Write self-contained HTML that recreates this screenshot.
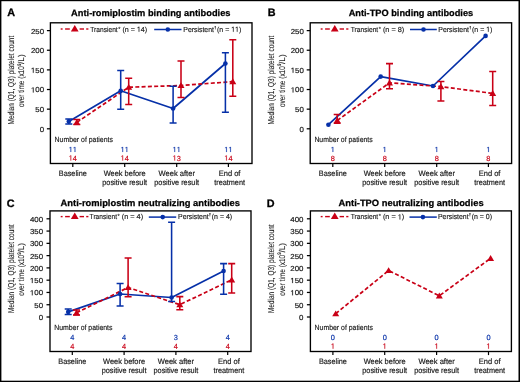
<!DOCTYPE html>
<html><head><meta charset="utf-8"><style>
html,body{margin:0;padding:0;background:#fff;}
svg{display:block;will-change:transform;}
text{font-family:'Liberation Sans', sans-serif;text-rendering:geometricPrecision;}
</style></head><body>
<svg width="520" height="382" viewBox="0 0 520 382">
<rect x="0" y="0" width="520" height="382" fill="#fff"/>
<rect x="0" y="0" width="520" height="1.2" fill="#000"/>
<rect x="0" y="0" width="1.4" height="382" fill="#000"/>
<rect x="518.5" y="0" width="1.5" height="382" fill="#000"/>
<rect x="0" y="380.7" width="520" height="1.3" fill="#000"/>
<text x="71.10" y="15.90" font-size="9.2" text-anchor="start" font-weight="bold" fill="#000" stroke="#000" stroke-width="0.25" textLength="159.4" lengthAdjust="spacingAndGlyphs" >Anti-romiplostim binding antibodies</text>
<text x="7.20" y="16.10" font-size="10.8" text-anchor="start" font-weight="bold" fill="#000" stroke="#000" stroke-width="0.3" >A</text>
<rect x="50.4" y="22.8" width="201.6" height="140.7" fill="none" stroke="#000" stroke-width="1.35"/>
<path d="M46.9,128.80 H50.4" stroke="#000" stroke-width="1.25"/>
<text x="44.10" y="131.70" font-size="7.3" text-anchor="end" font-weight="normal" fill="#1a1a1a" stroke="#1a1a1a" stroke-width="0.18" textLength="4.4" lengthAdjust="spacingAndGlyphs" >0</text>
<path d="M46.9,109.16 H50.4" stroke="#000" stroke-width="1.25"/>
<text x="44.10" y="112.06" font-size="7.3" text-anchor="end" font-weight="normal" fill="#1a1a1a" stroke="#1a1a1a" stroke-width="0.18" textLength="8.8" lengthAdjust="spacingAndGlyphs" >50</text>
<path d="M46.9,89.52 H50.4" stroke="#000" stroke-width="1.25"/>
<text x="30.90" y="92.42" font-size="7.3" text-anchor="start" font-weight="normal" fill="#1a1a1a" stroke="#1a1a1a" stroke-width="0.18" textLength="13.199999999999998" lengthAdjust="spacingAndGlyphs" > 00</text><path d="M515,0 L515,1237 L197,1010 L197,1180 L530,1409 L696,1409 L696,0 Z" fill="#1a1a1a" stroke="#1a1a1a" stroke-width="50.5" transform="translate(30.90,92.42) scale(0.00386,-0.00356)"/>
<path d="M46.9,69.88 H50.4" stroke="#000" stroke-width="1.25"/>
<text x="30.90" y="72.78" font-size="7.3" text-anchor="start" font-weight="normal" fill="#1a1a1a" stroke="#1a1a1a" stroke-width="0.18" textLength="13.199999999999998" lengthAdjust="spacingAndGlyphs" > 50</text><path d="M515,0 L515,1237 L197,1010 L197,1180 L530,1409 L696,1409 L696,0 Z" fill="#1a1a1a" stroke="#1a1a1a" stroke-width="50.5" transform="translate(30.90,72.78) scale(0.00386,-0.00356)"/>
<path d="M46.9,50.24 H50.4" stroke="#000" stroke-width="1.25"/>
<text x="44.10" y="53.14" font-size="7.3" text-anchor="end" font-weight="normal" fill="#1a1a1a" stroke="#1a1a1a" stroke-width="0.18" textLength="13.2" lengthAdjust="spacingAndGlyphs" >200</text>
<path d="M46.9,30.60 H50.4" stroke="#000" stroke-width="1.25"/>
<text x="44.10" y="33.50" font-size="7.3" text-anchor="end" font-weight="normal" fill="#1a1a1a" stroke="#1a1a1a" stroke-width="0.18" textLength="13.2" lengthAdjust="spacingAndGlyphs" >250</text>
<path d="M72.80,163.5 V167.1" stroke="#000" stroke-width="1.2"/>
<path d="M124.70,163.5 V167.1" stroke="#000" stroke-width="1.2"/>
<path d="M176.70,163.5 V167.1" stroke="#000" stroke-width="1.2"/>
<path d="M228.40,163.5 V167.1" stroke="#000" stroke-width="1.2"/>
<text x="72.80" y="175.90" font-size="7.8" text-anchor="middle" font-weight="normal" fill="#1a1a1a" stroke="#1a1a1a" stroke-width="0.18" textLength="28" lengthAdjust="spacingAndGlyphs" >Baseline</text>
<text x="124.70" y="175.90" font-size="7.8" text-anchor="middle" font-weight="normal" fill="#1a1a1a" stroke="#1a1a1a" stroke-width="0.18" textLength="42.1" lengthAdjust="spacingAndGlyphs" >Week before</text>
<text x="124.70" y="184.70" font-size="7.8" text-anchor="middle" font-weight="normal" fill="#1a1a1a" stroke="#1a1a1a" stroke-width="0.18" textLength="44.8" lengthAdjust="spacingAndGlyphs" >positive result</text>
<text x="176.70" y="175.90" font-size="7.8" text-anchor="middle" font-weight="normal" fill="#1a1a1a" stroke="#1a1a1a" stroke-width="0.18" textLength="36.4" lengthAdjust="spacingAndGlyphs" >Week after</text>
<text x="176.70" y="184.70" font-size="7.8" text-anchor="middle" font-weight="normal" fill="#1a1a1a" stroke="#1a1a1a" stroke-width="0.18" textLength="44.8" lengthAdjust="spacingAndGlyphs" >positive result</text>
<text x="229.60" y="175.90" font-size="7.8" text-anchor="middle" font-weight="normal" fill="#1a1a1a" stroke="#1a1a1a" stroke-width="0.18" textLength="21.7" lengthAdjust="spacingAndGlyphs" >End of</text>
<text x="229.60" y="184.70" font-size="7.8" text-anchor="middle" font-weight="normal" fill="#1a1a1a" stroke="#1a1a1a" stroke-width="0.18" textLength="30.8" lengthAdjust="spacingAndGlyphs" >treatment</text>
<g transform="translate(14.0,80.1) rotate(-90)"><text x="0.00" y="0.00" font-size="8.6" text-anchor="middle" font-weight="normal" fill="#1a1a1a" stroke="#1a1a1a" stroke-width="0.1" textLength="88.7" lengthAdjust="spacingAndGlyphs" >Median (Q1, Q3) platelet count</text><text x="-27.00" y="10.40" font-size="8.4" text-anchor="start" font-weight="normal" fill="#1a1a1a" stroke="#1a1a1a" stroke-width="0.1" textLength="40.9" lengthAdjust="spacingAndGlyphs" >over time (x10</text><text x="14.00" y="6.50" font-size="5.2" text-anchor="start" font-weight="normal" fill="#1a1a1a" stroke="#1a1a1a" stroke-width="0.1" textLength="2.4" lengthAdjust="spacingAndGlyphs" >9</text><text x="16.20" y="10.40" font-size="8.4" text-anchor="start" font-weight="normal" fill="#1a1a1a" stroke="#1a1a1a" stroke-width="0.1" textLength="9.6" lengthAdjust="spacingAndGlyphs" >/L)</text></g>
<path d="M60.70,29.00 H62.60" stroke="#c90016" stroke-width="1.4"/>
<path d="M65.10,29.00 H69.80" stroke="#c90016" stroke-width="1.4"/>
<path d="M79.60,29.00 H84.00" stroke="#c90016" stroke-width="1.4"/>
<path d="M86.20,29.00 H88.40" stroke="#c90016" stroke-width="1.4"/>
<path d="M74.75,25.00 L78.65,31.50 L70.85,31.50 Z" fill="#c90016"/>
<text x="90.30" y="31.80" font-size="7.3" text-anchor="start" font-weight="normal" fill="#1a1a1a" stroke="#1a1a1a" stroke-width="0.15" textLength="27.4" lengthAdjust="spacingAndGlyphs" >Transient</text>
<text x="118.20" y="30.60" font-size="6" text-anchor="start" font-weight="normal" fill="#1a1a1a" stroke="#1a1a1a" stroke-width="0.1" textLength="2.2" lengthAdjust="spacingAndGlyphs" >*</text>
<text x="122.40" y="31.80" font-size="7.3" text-anchor="start" font-weight="normal" fill="#1a1a1a" stroke="#1a1a1a" stroke-width="0.15" textLength="24.8" lengthAdjust="spacingAndGlyphs" >(n =  4)</text><path d="M515,0 L515,1237 L197,1010 L197,1180 L530,1409 L696,1409 L696,0 Z" fill="#1a1a1a" stroke="#1a1a1a" stroke-width="42.1" transform="translate(136.88,31.80) scale(0.00349,-0.00356)"/>
<path d="M154.20,29.50 H181.50" stroke="#0630a8" stroke-width="1.5"/>
<circle cx="167.80" cy="29.50" r="2.3" fill="#0630a8"/>
<text x="183.30" y="31.80" font-size="7.3" text-anchor="start" font-weight="normal" fill="#1a1a1a" stroke="#1a1a1a" stroke-width="0.15" textLength="30.6" lengthAdjust="spacingAndGlyphs" >Persistent</text>
<text x="214.30" y="28.60" font-size="4.0" text-anchor="start" font-weight="normal" fill="#1a1a1a" stroke="#1a1a1a" stroke-width="0.25" textLength="1.9" lengthAdjust="spacingAndGlyphs" >†</text>
<text x="217.00" y="31.80" font-size="7.3" text-anchor="start" font-weight="normal" fill="#1a1a1a" stroke="#1a1a1a" stroke-width="0.15" textLength="24.3" lengthAdjust="spacingAndGlyphs" >(n =   )</text><path d="M515,0 L515,1237 L197,1010 L197,1180 L530,1409 L696,1409 L696,0 Z" fill="#1a1a1a" stroke="#1a1a1a" stroke-width="42.1" transform="translate(231.19,31.80) scale(0.00342,-0.00356)"/><path d="M515,0 L515,1237 L197,1010 L197,1180 L530,1409 L696,1409 L696,0 Z" fill="#1a1a1a" stroke="#1a1a1a" stroke-width="42.1" transform="translate(235.08,31.80) scale(0.00342,-0.00356)"/>
<text x="54.60" y="141.60" font-size="7.6" text-anchor="start" font-weight="normal" fill="#1a1a1a" stroke="#1a1a1a" stroke-width="0.16" textLength="58.3" lengthAdjust="spacingAndGlyphs" >Number of patients</text>
<text x="68.68" y="152.00" font-size="7.4" text-anchor="start" font-weight="normal" fill="#0630a8" stroke="#0630a8" stroke-width="0.15" >  </text><path d="M515,0 L515,1237 L197,1010 L197,1180 L530,1409 L696,1409 L696,0 Z" fill="#0630a8" stroke="#0630a8" stroke-width="41.5" transform="translate(68.68,152.00) scale(0.00361,-0.00361)"/><path d="M515,0 L515,1237 L197,1010 L197,1180 L530,1409 L696,1409 L696,0 Z" fill="#0630a8" stroke="#0630a8" stroke-width="41.5" transform="translate(72.80,152.00) scale(0.00361,-0.00361)"/>
<text x="68.68" y="160.50" font-size="7.4" text-anchor="start" font-weight="normal" fill="#c90016" stroke="#c90016" stroke-width="0.15" > 4</text><path d="M515,0 L515,1237 L197,1010 L197,1180 L530,1409 L696,1409 L696,0 Z" fill="#c90016" stroke="#c90016" stroke-width="41.5" transform="translate(68.68,160.50) scale(0.00361,-0.00361)"/>
<text x="120.58" y="152.00" font-size="7.4" text-anchor="start" font-weight="normal" fill="#0630a8" stroke="#0630a8" stroke-width="0.15" >  </text><path d="M515,0 L515,1237 L197,1010 L197,1180 L530,1409 L696,1409 L696,0 Z" fill="#0630a8" stroke="#0630a8" stroke-width="41.5" transform="translate(120.58,152.00) scale(0.00361,-0.00361)"/><path d="M515,0 L515,1237 L197,1010 L197,1180 L530,1409 L696,1409 L696,0 Z" fill="#0630a8" stroke="#0630a8" stroke-width="41.5" transform="translate(124.70,152.00) scale(0.00361,-0.00361)"/>
<text x="120.58" y="160.50" font-size="7.4" text-anchor="start" font-weight="normal" fill="#c90016" stroke="#c90016" stroke-width="0.15" > 4</text><path d="M515,0 L515,1237 L197,1010 L197,1180 L530,1409 L696,1409 L696,0 Z" fill="#c90016" stroke="#c90016" stroke-width="41.5" transform="translate(120.58,160.50) scale(0.00361,-0.00361)"/>
<text x="172.58" y="152.00" font-size="7.4" text-anchor="start" font-weight="normal" fill="#0630a8" stroke="#0630a8" stroke-width="0.15" >  </text><path d="M515,0 L515,1237 L197,1010 L197,1180 L530,1409 L696,1409 L696,0 Z" fill="#0630a8" stroke="#0630a8" stroke-width="41.5" transform="translate(172.58,152.00) scale(0.00361,-0.00361)"/><path d="M515,0 L515,1237 L197,1010 L197,1180 L530,1409 L696,1409 L696,0 Z" fill="#0630a8" stroke="#0630a8" stroke-width="41.5" transform="translate(176.70,152.00) scale(0.00361,-0.00361)"/>
<text x="172.58" y="160.50" font-size="7.4" text-anchor="start" font-weight="normal" fill="#c90016" stroke="#c90016" stroke-width="0.15" > 3</text><path d="M515,0 L515,1237 L197,1010 L197,1180 L530,1409 L696,1409 L696,0 Z" fill="#c90016" stroke="#c90016" stroke-width="41.5" transform="translate(172.58,160.50) scale(0.00361,-0.00361)"/>
<text x="224.28" y="152.00" font-size="7.4" text-anchor="start" font-weight="normal" fill="#0630a8" stroke="#0630a8" stroke-width="0.15" >  </text><path d="M515,0 L515,1237 L197,1010 L197,1180 L530,1409 L696,1409 L696,0 Z" fill="#0630a8" stroke="#0630a8" stroke-width="41.5" transform="translate(224.28,152.00) scale(0.00361,-0.00361)"/><path d="M515,0 L515,1237 L197,1010 L197,1180 L530,1409 L696,1409 L696,0 Z" fill="#0630a8" stroke="#0630a8" stroke-width="41.5" transform="translate(228.40,152.00) scale(0.00361,-0.00361)"/>
<text x="224.28" y="160.50" font-size="7.4" text-anchor="start" font-weight="normal" fill="#c90016" stroke="#c90016" stroke-width="0.15" > 4</text><path d="M515,0 L515,1237 L197,1010 L197,1180 L530,1409 L696,1409 L696,0 Z" fill="#c90016" stroke="#c90016" stroke-width="41.5" transform="translate(224.28,160.50) scale(0.00361,-0.00361)"/>
<polyline points="68.80,121.40 120.70,90.80 173.10,108.50 225.40,63.50" fill="none" stroke="#0630a8" stroke-width="1.7" stroke-linejoin="round"/>
<polyline points="76.80,122.40 128.70,87.20 181.00,85.50 232.80,81.60" fill="none" stroke="#c90016" stroke-width="1.7" stroke-dasharray="4,2.3"/>
<path d="M76.80,119.50 V124.50 M73.30,119.50 H80.30 M73.30,124.50 H80.30" stroke="#c90016" stroke-width="1.55" fill="none"/>
<path d="M76.80,119.10 L80.30,125.00 L73.30,125.00 Z" fill="#c90016"/>
<path d="M128.70,78.20 V104.40 M125.20,78.20 H132.20 M125.20,104.40 H132.20" stroke="#c90016" stroke-width="1.55" fill="none"/>
<path d="M128.70,83.90 L132.20,89.80 L125.20,89.80 Z" fill="#c90016"/>
<path d="M181.00,60.90 V97.50 M177.50,60.90 H184.50 M177.50,97.50 H184.50" stroke="#c90016" stroke-width="1.55" fill="none"/>
<path d="M181.00,82.20 L184.50,88.10 L177.50,88.10 Z" fill="#c90016"/>
<path d="M232.80,39.70 V96.20 M229.30,39.70 H236.30 M229.30,96.20 H236.30" stroke="#c90016" stroke-width="1.55" fill="none"/>
<path d="M232.80,78.30 L236.30,84.20 L229.30,84.20 Z" fill="#c90016"/>
<path d="M68.80,119.00 V124.00 M65.30,119.00 H72.30 M65.30,124.00 H72.30" stroke="#0630a8" stroke-width="1.55" fill="none"/>
<circle cx="68.80" cy="121.40" r="2.3" fill="#0630a8"/>
<path d="M120.70,70.40 V109.20 M117.20,70.40 H124.20 M117.20,109.20 H124.20" stroke="#0630a8" stroke-width="1.55" fill="none"/>
<circle cx="120.70" cy="90.80" r="2.3" fill="#0630a8"/>
<path d="M173.10,86.30 V122.90 M169.60,86.30 H176.60 M169.60,122.90 H176.60" stroke="#0630a8" stroke-width="1.55" fill="none"/>
<circle cx="173.10" cy="108.50" r="2.3" fill="#0630a8"/>
<path d="M225.40,52.80 V112.20 M221.90,52.80 H228.90 M221.90,112.20 H228.90" stroke="#0630a8" stroke-width="1.55" fill="none"/>
<circle cx="225.40" cy="63.50" r="2.3" fill="#0630a8"/>
<text x="348.70" y="15.90" font-size="9.2" text-anchor="start" font-weight="bold" fill="#000" stroke="#000" stroke-width="0.25" textLength="124.5" lengthAdjust="spacingAndGlyphs" >Anti-TPO binding antibodies</text>
<text x="267.80" y="16.10" font-size="10.8" text-anchor="start" font-weight="bold" fill="#000" stroke="#000" stroke-width="0.3" >B</text>
<rect x="310.2" y="22.8" width="201.40000000000003" height="140.7" fill="none" stroke="#000" stroke-width="1.35"/>
<path d="M306.7,128.80 H310.2" stroke="#000" stroke-width="1.25"/>
<text x="303.90" y="131.70" font-size="7.3" text-anchor="end" font-weight="normal" fill="#1a1a1a" stroke="#1a1a1a" stroke-width="0.18" textLength="4.4" lengthAdjust="spacingAndGlyphs" >0</text>
<path d="M306.7,109.16 H310.2" stroke="#000" stroke-width="1.25"/>
<text x="303.90" y="112.06" font-size="7.3" text-anchor="end" font-weight="normal" fill="#1a1a1a" stroke="#1a1a1a" stroke-width="0.18" textLength="8.8" lengthAdjust="spacingAndGlyphs" >50</text>
<path d="M306.7,89.52 H310.2" stroke="#000" stroke-width="1.25"/>
<text x="290.70" y="92.42" font-size="7.3" text-anchor="start" font-weight="normal" fill="#1a1a1a" stroke="#1a1a1a" stroke-width="0.18" textLength="13.199999999999998" lengthAdjust="spacingAndGlyphs" > 00</text><path d="M515,0 L515,1237 L197,1010 L197,1180 L530,1409 L696,1409 L696,0 Z" fill="#1a1a1a" stroke="#1a1a1a" stroke-width="50.5" transform="translate(290.70,92.42) scale(0.00386,-0.00356)"/>
<path d="M306.7,69.88 H310.2" stroke="#000" stroke-width="1.25"/>
<text x="290.70" y="72.78" font-size="7.3" text-anchor="start" font-weight="normal" fill="#1a1a1a" stroke="#1a1a1a" stroke-width="0.18" textLength="13.199999999999998" lengthAdjust="spacingAndGlyphs" > 50</text><path d="M515,0 L515,1237 L197,1010 L197,1180 L530,1409 L696,1409 L696,0 Z" fill="#1a1a1a" stroke="#1a1a1a" stroke-width="50.5" transform="translate(290.70,72.78) scale(0.00386,-0.00356)"/>
<path d="M306.7,50.24 H310.2" stroke="#000" stroke-width="1.25"/>
<text x="303.90" y="53.14" font-size="7.3" text-anchor="end" font-weight="normal" fill="#1a1a1a" stroke="#1a1a1a" stroke-width="0.18" textLength="13.2" lengthAdjust="spacingAndGlyphs" >200</text>
<path d="M306.7,30.60 H310.2" stroke="#000" stroke-width="1.25"/>
<text x="303.90" y="33.50" font-size="7.3" text-anchor="end" font-weight="normal" fill="#1a1a1a" stroke="#1a1a1a" stroke-width="0.18" textLength="13.2" lengthAdjust="spacingAndGlyphs" >250</text>
<path d="M332.80,163.5 V167.1" stroke="#000" stroke-width="1.2"/>
<path d="M384.70,163.5 V167.1" stroke="#000" stroke-width="1.2"/>
<path d="M436.70,163.5 V167.1" stroke="#000" stroke-width="1.2"/>
<path d="M488.40,163.5 V167.1" stroke="#000" stroke-width="1.2"/>
<text x="332.80" y="175.90" font-size="7.8" text-anchor="middle" font-weight="normal" fill="#1a1a1a" stroke="#1a1a1a" stroke-width="0.18" textLength="28" lengthAdjust="spacingAndGlyphs" >Baseline</text>
<text x="384.70" y="175.90" font-size="7.8" text-anchor="middle" font-weight="normal" fill="#1a1a1a" stroke="#1a1a1a" stroke-width="0.18" textLength="42.1" lengthAdjust="spacingAndGlyphs" >Week before</text>
<text x="384.70" y="184.70" font-size="7.8" text-anchor="middle" font-weight="normal" fill="#1a1a1a" stroke="#1a1a1a" stroke-width="0.18" textLength="44.8" lengthAdjust="spacingAndGlyphs" >positive result</text>
<text x="436.70" y="175.90" font-size="7.8" text-anchor="middle" font-weight="normal" fill="#1a1a1a" stroke="#1a1a1a" stroke-width="0.18" textLength="36.4" lengthAdjust="spacingAndGlyphs" >Week after</text>
<text x="436.70" y="184.70" font-size="7.8" text-anchor="middle" font-weight="normal" fill="#1a1a1a" stroke="#1a1a1a" stroke-width="0.18" textLength="44.8" lengthAdjust="spacingAndGlyphs" >positive result</text>
<text x="489.60" y="175.90" font-size="7.8" text-anchor="middle" font-weight="normal" fill="#1a1a1a" stroke="#1a1a1a" stroke-width="0.18" textLength="21.7" lengthAdjust="spacingAndGlyphs" >End of</text>
<text x="489.60" y="184.70" font-size="7.8" text-anchor="middle" font-weight="normal" fill="#1a1a1a" stroke="#1a1a1a" stroke-width="0.18" textLength="30.8" lengthAdjust="spacingAndGlyphs" >treatment</text>
<g transform="translate(274.2,80.1) rotate(-90)"><text x="0.00" y="0.00" font-size="8.6" text-anchor="middle" font-weight="normal" fill="#1a1a1a" stroke="#1a1a1a" stroke-width="0.1" textLength="88.7" lengthAdjust="spacingAndGlyphs" >Median (Q1, Q3) platelet count</text><text x="-27.00" y="10.40" font-size="8.4" text-anchor="start" font-weight="normal" fill="#1a1a1a" stroke="#1a1a1a" stroke-width="0.1" textLength="40.9" lengthAdjust="spacingAndGlyphs" >over time (x10</text><text x="14.00" y="6.50" font-size="5.2" text-anchor="start" font-weight="normal" fill="#1a1a1a" stroke="#1a1a1a" stroke-width="0.1" textLength="2.4" lengthAdjust="spacingAndGlyphs" >9</text><text x="16.20" y="10.40" font-size="8.4" text-anchor="start" font-weight="normal" fill="#1a1a1a" stroke="#1a1a1a" stroke-width="0.1" textLength="9.6" lengthAdjust="spacingAndGlyphs" >/L)</text></g>
<path d="M320.70,29.00 H322.60" stroke="#c90016" stroke-width="1.4"/>
<path d="M325.10,29.00 H329.80" stroke="#c90016" stroke-width="1.4"/>
<path d="M339.60,29.00 H344.00" stroke="#c90016" stroke-width="1.4"/>
<path d="M346.20,29.00 H348.40" stroke="#c90016" stroke-width="1.4"/>
<path d="M334.75,25.00 L338.65,31.50 L330.85,31.50 Z" fill="#c90016"/>
<text x="350.80" y="31.80" font-size="7.3" text-anchor="start" font-weight="normal" fill="#1a1a1a" stroke="#1a1a1a" stroke-width="0.15" textLength="27.4" lengthAdjust="spacingAndGlyphs" >Transient</text>
<text x="378.70" y="30.60" font-size="6" text-anchor="start" font-weight="normal" fill="#1a1a1a" stroke="#1a1a1a" stroke-width="0.1" textLength="2.2" lengthAdjust="spacingAndGlyphs" >*</text>
<text x="382.90" y="31.80" font-size="7.3" text-anchor="start" font-weight="normal" fill="#1a1a1a" stroke="#1a1a1a" stroke-width="0.15" textLength="21.4" lengthAdjust="spacingAndGlyphs" >(n = 8)</text>
<path d="M410.00,29.50 H436.80" stroke="#0630a8" stroke-width="1.5"/>
<circle cx="423.50" cy="29.50" r="2.3" fill="#0630a8"/>
<text x="438.30" y="31.80" font-size="7.3" text-anchor="start" font-weight="normal" fill="#1a1a1a" stroke="#1a1a1a" stroke-width="0.15" textLength="30.6" lengthAdjust="spacingAndGlyphs" >Persistent</text>
<text x="469.30" y="28.60" font-size="4.0" text-anchor="start" font-weight="normal" fill="#1a1a1a" stroke="#1a1a1a" stroke-width="0.25" textLength="1.9" lengthAdjust="spacingAndGlyphs" >†</text>
<text x="472.00" y="31.80" font-size="7.3" text-anchor="start" font-weight="normal" fill="#1a1a1a" stroke="#1a1a1a" stroke-width="0.15" textLength="20.4" lengthAdjust="spacingAndGlyphs" >(n =  )</text><path d="M515,0 L515,1237 L197,1010 L197,1180 L530,1409 L696,1409 L696,0 Z" fill="#1a1a1a" stroke="#1a1a1a" stroke-width="42.1" transform="translate(486.18,31.80) scale(0.00341,-0.00356)"/>
<text x="314.40" y="141.60" font-size="7.6" text-anchor="start" font-weight="normal" fill="#1a1a1a" stroke="#1a1a1a" stroke-width="0.16" textLength="58.3" lengthAdjust="spacingAndGlyphs" >Number of patients</text>
<text x="330.74" y="152.00" font-size="7.4" text-anchor="start" font-weight="normal" fill="#0630a8" stroke="#0630a8" stroke-width="0.15" > </text><path d="M515,0 L515,1237 L197,1010 L197,1180 L530,1409 L696,1409 L696,0 Z" fill="#0630a8" stroke="#0630a8" stroke-width="41.5" transform="translate(330.74,152.00) scale(0.00361,-0.00361)"/>
<text x="332.80" y="160.50" font-size="7.4" text-anchor="middle" font-weight="normal" fill="#c90016" stroke="#c90016" stroke-width="0.15" >8</text>
<text x="382.64" y="152.00" font-size="7.4" text-anchor="start" font-weight="normal" fill="#0630a8" stroke="#0630a8" stroke-width="0.15" > </text><path d="M515,0 L515,1237 L197,1010 L197,1180 L530,1409 L696,1409 L696,0 Z" fill="#0630a8" stroke="#0630a8" stroke-width="41.5" transform="translate(382.64,152.00) scale(0.00361,-0.00361)"/>
<text x="384.70" y="160.50" font-size="7.4" text-anchor="middle" font-weight="normal" fill="#c90016" stroke="#c90016" stroke-width="0.15" >8</text>
<text x="434.64" y="152.00" font-size="7.4" text-anchor="start" font-weight="normal" fill="#0630a8" stroke="#0630a8" stroke-width="0.15" > </text><path d="M515,0 L515,1237 L197,1010 L197,1180 L530,1409 L696,1409 L696,0 Z" fill="#0630a8" stroke="#0630a8" stroke-width="41.5" transform="translate(434.64,152.00) scale(0.00361,-0.00361)"/>
<text x="436.70" y="160.50" font-size="7.4" text-anchor="middle" font-weight="normal" fill="#c90016" stroke="#c90016" stroke-width="0.15" >8</text>
<text x="486.34" y="152.00" font-size="7.4" text-anchor="start" font-weight="normal" fill="#0630a8" stroke="#0630a8" stroke-width="0.15" > </text><path d="M515,0 L515,1237 L197,1010 L197,1180 L530,1409 L696,1409 L696,0 Z" fill="#0630a8" stroke="#0630a8" stroke-width="41.5" transform="translate(486.34,152.00) scale(0.00361,-0.00361)"/>
<text x="488.40" y="160.50" font-size="7.4" text-anchor="middle" font-weight="normal" fill="#c90016" stroke="#c90016" stroke-width="0.15" >8</text>
<polyline points="328.40,124.70 380.70,76.60 433.00,86.00 485.60,35.90" fill="none" stroke="#0630a8" stroke-width="1.7" stroke-linejoin="round"/>
<polyline points="337.20,120.50 389.50,82.80 440.90,86.60 492.70,93.40" fill="none" stroke="#c90016" stroke-width="1.7" stroke-dasharray="4,2.3"/>
<path d="M337.20,114.40 V123.20 M333.70,114.40 H340.70 M333.70,123.20 H340.70" stroke="#c90016" stroke-width="1.55" fill="none"/>
<path d="M337.20,117.20 L340.70,123.10 L333.70,123.10 Z" fill="#c90016"/>
<path d="M389.50,63.60 V88.70 M386.00,63.60 H393.00 M386.00,88.70 H393.00" stroke="#c90016" stroke-width="1.55" fill="none"/>
<path d="M389.50,79.50 L393.00,85.40 L386.00,85.40 Z" fill="#c90016"/>
<path d="M440.90,81.40 V100.90 M437.40,81.40 H444.40 M437.40,100.90 H444.40" stroke="#c90016" stroke-width="1.55" fill="none"/>
<path d="M440.90,83.30 L444.40,89.20 L437.40,89.20 Z" fill="#c90016"/>
<path d="M492.70,71.40 V105.50 M489.20,71.40 H496.20 M489.20,105.50 H496.20" stroke="#c90016" stroke-width="1.55" fill="none"/>
<path d="M492.70,90.10 L496.20,96.00 L489.20,96.00 Z" fill="#c90016"/>
<circle cx="328.40" cy="124.70" r="2.3" fill="#0630a8"/>
<circle cx="380.70" cy="76.60" r="2.3" fill="#0630a8"/>
<circle cx="433.00" cy="86.00" r="2.3" fill="#0630a8"/>
<circle cx="485.60" cy="35.90" r="2.3" fill="#0630a8"/>
<text x="60.60" y="205.50" font-size="9.2" text-anchor="start" font-weight="bold" fill="#000" stroke="#000" stroke-width="0.25" textLength="179.3" lengthAdjust="spacingAndGlyphs" >Anti-romiplostim neutralizing antibodies</text>
<text x="6.80" y="207.40" font-size="10.8" text-anchor="start" font-weight="bold" fill="#000" stroke="#000" stroke-width="0.3" >C</text>
<rect x="50" y="210.9" width="201" height="140.6" fill="none" stroke="#000" stroke-width="1.35"/>
<path d="M46.5,317.00 H50" stroke="#000" stroke-width="1.25"/>
<text x="43.10" y="319.90" font-size="7.3" text-anchor="end" font-weight="normal" fill="#1a1a1a" stroke="#1a1a1a" stroke-width="0.18" textLength="4.4" lengthAdjust="spacingAndGlyphs" >0</text>
<path d="M46.5,304.73 H50" stroke="#000" stroke-width="1.25"/>
<text x="43.10" y="307.62" font-size="7.3" text-anchor="end" font-weight="normal" fill="#1a1a1a" stroke="#1a1a1a" stroke-width="0.18" textLength="8.8" lengthAdjust="spacingAndGlyphs" >50</text>
<path d="M46.5,292.45 H50" stroke="#000" stroke-width="1.25"/>
<text x="29.90" y="295.35" font-size="7.3" text-anchor="start" font-weight="normal" fill="#1a1a1a" stroke="#1a1a1a" stroke-width="0.18" textLength="13.199999999999998" lengthAdjust="spacingAndGlyphs" > 00</text><path d="M515,0 L515,1237 L197,1010 L197,1180 L530,1409 L696,1409 L696,0 Z" fill="#1a1a1a" stroke="#1a1a1a" stroke-width="50.5" transform="translate(29.90,295.35) scale(0.00386,-0.00356)"/>
<path d="M46.5,280.18 H50" stroke="#000" stroke-width="1.25"/>
<text x="29.90" y="283.07" font-size="7.3" text-anchor="start" font-weight="normal" fill="#1a1a1a" stroke="#1a1a1a" stroke-width="0.18" textLength="13.199999999999998" lengthAdjust="spacingAndGlyphs" > 50</text><path d="M515,0 L515,1237 L197,1010 L197,1180 L530,1409 L696,1409 L696,0 Z" fill="#1a1a1a" stroke="#1a1a1a" stroke-width="50.5" transform="translate(29.90,283.07) scale(0.00386,-0.00356)"/>
<path d="M46.5,267.90 H50" stroke="#000" stroke-width="1.25"/>
<text x="43.10" y="270.80" font-size="7.3" text-anchor="end" font-weight="normal" fill="#1a1a1a" stroke="#1a1a1a" stroke-width="0.18" textLength="13.2" lengthAdjust="spacingAndGlyphs" >200</text>
<path d="M46.5,255.62 H50" stroke="#000" stroke-width="1.25"/>
<text x="43.10" y="258.52" font-size="7.3" text-anchor="end" font-weight="normal" fill="#1a1a1a" stroke="#1a1a1a" stroke-width="0.18" textLength="13.2" lengthAdjust="spacingAndGlyphs" >250</text>
<path d="M46.5,243.35 H50" stroke="#000" stroke-width="1.25"/>
<text x="43.10" y="246.25" font-size="7.3" text-anchor="end" font-weight="normal" fill="#1a1a1a" stroke="#1a1a1a" stroke-width="0.18" textLength="13.2" lengthAdjust="spacingAndGlyphs" >300</text>
<path d="M46.5,231.07 H50" stroke="#000" stroke-width="1.25"/>
<text x="43.10" y="233.97" font-size="7.3" text-anchor="end" font-weight="normal" fill="#1a1a1a" stroke="#1a1a1a" stroke-width="0.18" textLength="13.2" lengthAdjust="spacingAndGlyphs" >350</text>
<path d="M46.5,218.80 H50" stroke="#000" stroke-width="1.25"/>
<text x="43.10" y="221.70" font-size="7.3" text-anchor="end" font-weight="normal" fill="#1a1a1a" stroke="#1a1a1a" stroke-width="0.18" textLength="13.2" lengthAdjust="spacingAndGlyphs" >400</text>
<path d="M72.30,351.5 V355.1" stroke="#000" stroke-width="1.2"/>
<path d="M124.10,351.5 V355.1" stroke="#000" stroke-width="1.2"/>
<path d="M175.90,351.5 V355.1" stroke="#000" stroke-width="1.2"/>
<path d="M227.70,351.5 V355.1" stroke="#000" stroke-width="1.2"/>
<text x="72.30" y="363.90" font-size="7.8" text-anchor="middle" font-weight="normal" fill="#1a1a1a" stroke="#1a1a1a" stroke-width="0.18" textLength="28" lengthAdjust="spacingAndGlyphs" >Baseline</text>
<text x="124.10" y="363.90" font-size="7.8" text-anchor="middle" font-weight="normal" fill="#1a1a1a" stroke="#1a1a1a" stroke-width="0.18" textLength="42.1" lengthAdjust="spacingAndGlyphs" >Week before</text>
<text x="124.10" y="372.70" font-size="7.8" text-anchor="middle" font-weight="normal" fill="#1a1a1a" stroke="#1a1a1a" stroke-width="0.18" textLength="44.8" lengthAdjust="spacingAndGlyphs" >positive result</text>
<text x="175.90" y="363.90" font-size="7.8" text-anchor="middle" font-weight="normal" fill="#1a1a1a" stroke="#1a1a1a" stroke-width="0.18" textLength="36.4" lengthAdjust="spacingAndGlyphs" >Week after</text>
<text x="175.90" y="372.70" font-size="7.8" text-anchor="middle" font-weight="normal" fill="#1a1a1a" stroke="#1a1a1a" stroke-width="0.18" textLength="44.8" lengthAdjust="spacingAndGlyphs" >positive result</text>
<text x="228.90" y="363.90" font-size="7.8" text-anchor="middle" font-weight="normal" fill="#1a1a1a" stroke="#1a1a1a" stroke-width="0.18" textLength="21.7" lengthAdjust="spacingAndGlyphs" >End of</text>
<text x="228.90" y="372.70" font-size="7.8" text-anchor="middle" font-weight="normal" fill="#1a1a1a" stroke="#1a1a1a" stroke-width="0.18" textLength="30.8" lengthAdjust="spacingAndGlyphs" >treatment</text>
<g transform="translate(14.0,268.7) rotate(-90)"><text x="0.00" y="0.00" font-size="8.6" text-anchor="middle" font-weight="normal" fill="#1a1a1a" stroke="#1a1a1a" stroke-width="0.1" textLength="88.7" lengthAdjust="spacingAndGlyphs" >Median (Q1, Q3) platelet count</text><text x="-27.00" y="10.40" font-size="8.4" text-anchor="start" font-weight="normal" fill="#1a1a1a" stroke="#1a1a1a" stroke-width="0.1" textLength="40.9" lengthAdjust="spacingAndGlyphs" >over time (x10</text><text x="14.00" y="6.50" font-size="5.2" text-anchor="start" font-weight="normal" fill="#1a1a1a" stroke="#1a1a1a" stroke-width="0.1" textLength="2.4" lengthAdjust="spacingAndGlyphs" >9</text><text x="16.20" y="10.40" font-size="8.4" text-anchor="start" font-weight="normal" fill="#1a1a1a" stroke="#1a1a1a" stroke-width="0.1" textLength="9.6" lengthAdjust="spacingAndGlyphs" >/L)</text></g>
<path d="M60.70,216.60 H62.60" stroke="#c90016" stroke-width="1.4"/>
<path d="M65.10,216.60 H69.80" stroke="#c90016" stroke-width="1.4"/>
<path d="M79.60,216.60 H84.00" stroke="#c90016" stroke-width="1.4"/>
<path d="M86.20,216.60 H88.40" stroke="#c90016" stroke-width="1.4"/>
<path d="M74.75,212.60 L78.65,219.10 L70.85,219.10 Z" fill="#c90016"/>
<text x="89.60" y="219.40" font-size="7.3" text-anchor="start" font-weight="normal" fill="#1a1a1a" stroke="#1a1a1a" stroke-width="0.15" textLength="27.4" lengthAdjust="spacingAndGlyphs" >Transient</text>
<text x="117.50" y="218.20" font-size="6" text-anchor="start" font-weight="normal" fill="#1a1a1a" stroke="#1a1a1a" stroke-width="0.1" textLength="2.2" lengthAdjust="spacingAndGlyphs" >*</text>
<text x="121.70" y="219.40" font-size="7.3" text-anchor="start" font-weight="normal" fill="#1a1a1a" stroke="#1a1a1a" stroke-width="0.15" textLength="21.4" lengthAdjust="spacingAndGlyphs" >(n = 4)</text>
<path d="M148.80,217.10 H176.20" stroke="#0630a8" stroke-width="1.5"/>
<circle cx="162.70" cy="217.10" r="2.3" fill="#0630a8"/>
<text x="178.10" y="219.40" font-size="7.3" text-anchor="start" font-weight="normal" fill="#1a1a1a" stroke="#1a1a1a" stroke-width="0.15" textLength="30.6" lengthAdjust="spacingAndGlyphs" >Persistent</text>
<text x="209.10" y="216.20" font-size="4.0" text-anchor="start" font-weight="normal" fill="#1a1a1a" stroke="#1a1a1a" stroke-width="0.25" textLength="1.9" lengthAdjust="spacingAndGlyphs" >†</text>
<text x="211.80" y="219.40" font-size="7.3" text-anchor="start" font-weight="normal" fill="#1a1a1a" stroke="#1a1a1a" stroke-width="0.15" textLength="20.4" lengthAdjust="spacingAndGlyphs" >(n = 4)</text>
<text x="54.20" y="329.80" font-size="7.6" text-anchor="start" font-weight="normal" fill="#1a1a1a" stroke="#1a1a1a" stroke-width="0.16" textLength="58.3" lengthAdjust="spacingAndGlyphs" >Number of patients</text>
<text x="72.30" y="340.20" font-size="7.4" text-anchor="middle" font-weight="normal" fill="#0630a8" stroke="#0630a8" stroke-width="0.15" >4</text>
<text x="72.30" y="348.70" font-size="7.4" text-anchor="middle" font-weight="normal" fill="#c90016" stroke="#c90016" stroke-width="0.15" >4</text>
<text x="124.10" y="340.20" font-size="7.4" text-anchor="middle" font-weight="normal" fill="#0630a8" stroke="#0630a8" stroke-width="0.15" >4</text>
<text x="124.10" y="348.70" font-size="7.4" text-anchor="middle" font-weight="normal" fill="#c90016" stroke="#c90016" stroke-width="0.15" >4</text>
<text x="175.90" y="340.20" font-size="7.4" text-anchor="middle" font-weight="normal" fill="#0630a8" stroke="#0630a8" stroke-width="0.15" >3</text>
<text x="175.90" y="348.70" font-size="7.4" text-anchor="middle" font-weight="normal" fill="#c90016" stroke="#c90016" stroke-width="0.15" >4</text>
<text x="227.70" y="340.20" font-size="7.4" text-anchor="middle" font-weight="normal" fill="#0630a8" stroke="#0630a8" stroke-width="0.15" >4</text>
<text x="227.70" y="348.70" font-size="7.4" text-anchor="middle" font-weight="normal" fill="#c90016" stroke="#c90016" stroke-width="0.15" >4</text>
<polyline points="68.20,311.90 120.10,294.00 171.60,297.50 223.60,271.00" fill="none" stroke="#0630a8" stroke-width="1.7" stroke-linejoin="round"/>
<polyline points="76.50,312.80 128.10,287.50 179.80,304.70 231.70,279.80" fill="none" stroke="#c90016" stroke-width="1.7" stroke-dasharray="4,2.3"/>
<path d="M76.50,310.00 V315.00 M73.00,310.00 H80.00 M73.00,315.00 H80.00" stroke="#c90016" stroke-width="1.55" fill="none"/>
<path d="M76.50,309.50 L80.00,315.40 L73.00,315.40 Z" fill="#c90016"/>
<path d="M128.10,257.90 V296.70 M124.60,257.90 H131.60 M124.60,296.70 H131.60" stroke="#c90016" stroke-width="1.55" fill="none"/>
<path d="M128.10,284.20 L131.60,290.10 L124.60,290.10 Z" fill="#c90016"/>
<path d="M179.80,296.60 V309.70 M176.30,296.60 H183.30 M176.30,309.70 H183.30" stroke="#c90016" stroke-width="1.55" fill="none"/>
<path d="M179.80,301.40 L183.30,307.30 L176.30,307.30 Z" fill="#c90016"/>
<path d="M231.70,263.60 V293.00 M228.20,263.60 H235.20 M228.20,293.00 H235.20" stroke="#c90016" stroke-width="1.55" fill="none"/>
<path d="M231.70,276.50 L235.20,282.40 L228.20,282.40 Z" fill="#c90016"/>
<path d="M68.20,309.00 V314.50 M64.70,309.00 H71.70 M64.70,314.50 H71.70" stroke="#0630a8" stroke-width="1.55" fill="none"/>
<circle cx="68.20" cy="311.90" r="2.3" fill="#0630a8"/>
<path d="M120.10,283.50 V305.90 M116.60,283.50 H123.60 M116.60,305.90 H123.60" stroke="#0630a8" stroke-width="1.55" fill="none"/>
<circle cx="120.10" cy="294.00" r="2.3" fill="#0630a8"/>
<path d="M171.60,222.30 V301.40 M168.10,222.30 H175.10 M168.10,301.40 H175.10" stroke="#0630a8" stroke-width="1.55" fill="none"/>
<circle cx="171.60" cy="297.50" r="2.3" fill="#0630a8"/>
<path d="M223.60,263.60 V294.20 M220.10,263.60 H227.10 M220.10,294.20 H227.10" stroke="#0630a8" stroke-width="1.55" fill="none"/>
<circle cx="223.60" cy="271.00" r="2.3" fill="#0630a8"/>
<text x="338.60" y="205.50" font-size="9.2" text-anchor="start" font-weight="bold" fill="#000" stroke="#000" stroke-width="0.25" textLength="145" lengthAdjust="spacingAndGlyphs" >Anti-TPO neutralizing antibodies</text>
<text x="266.80" y="207.40" font-size="10.8" text-anchor="start" font-weight="bold" fill="#000" stroke="#000" stroke-width="0.3" >D</text>
<rect x="310.4" y="210.9" width="201.0" height="140.6" fill="none" stroke="#000" stroke-width="1.35"/>
<path d="M306.9,317.00 H310.4" stroke="#000" stroke-width="1.25"/>
<text x="303.50" y="319.90" font-size="7.3" text-anchor="end" font-weight="normal" fill="#1a1a1a" stroke="#1a1a1a" stroke-width="0.18" textLength="4.4" lengthAdjust="spacingAndGlyphs" >0</text>
<path d="M306.9,304.73 H310.4" stroke="#000" stroke-width="1.25"/>
<text x="303.50" y="307.62" font-size="7.3" text-anchor="end" font-weight="normal" fill="#1a1a1a" stroke="#1a1a1a" stroke-width="0.18" textLength="8.8" lengthAdjust="spacingAndGlyphs" >50</text>
<path d="M306.9,292.45 H310.4" stroke="#000" stroke-width="1.25"/>
<text x="290.30" y="295.35" font-size="7.3" text-anchor="start" font-weight="normal" fill="#1a1a1a" stroke="#1a1a1a" stroke-width="0.18" textLength="13.199999999999998" lengthAdjust="spacingAndGlyphs" > 00</text><path d="M515,0 L515,1237 L197,1010 L197,1180 L530,1409 L696,1409 L696,0 Z" fill="#1a1a1a" stroke="#1a1a1a" stroke-width="50.5" transform="translate(290.30,295.35) scale(0.00386,-0.00356)"/>
<path d="M306.9,280.18 H310.4" stroke="#000" stroke-width="1.25"/>
<text x="290.30" y="283.07" font-size="7.3" text-anchor="start" font-weight="normal" fill="#1a1a1a" stroke="#1a1a1a" stroke-width="0.18" textLength="13.199999999999998" lengthAdjust="spacingAndGlyphs" > 50</text><path d="M515,0 L515,1237 L197,1010 L197,1180 L530,1409 L696,1409 L696,0 Z" fill="#1a1a1a" stroke="#1a1a1a" stroke-width="50.5" transform="translate(290.30,283.07) scale(0.00386,-0.00356)"/>
<path d="M306.9,267.90 H310.4" stroke="#000" stroke-width="1.25"/>
<text x="303.50" y="270.80" font-size="7.3" text-anchor="end" font-weight="normal" fill="#1a1a1a" stroke="#1a1a1a" stroke-width="0.18" textLength="13.2" lengthAdjust="spacingAndGlyphs" >200</text>
<path d="M306.9,255.62 H310.4" stroke="#000" stroke-width="1.25"/>
<text x="303.50" y="258.52" font-size="7.3" text-anchor="end" font-weight="normal" fill="#1a1a1a" stroke="#1a1a1a" stroke-width="0.18" textLength="13.2" lengthAdjust="spacingAndGlyphs" >250</text>
<path d="M306.9,243.35 H310.4" stroke="#000" stroke-width="1.25"/>
<text x="303.50" y="246.25" font-size="7.3" text-anchor="end" font-weight="normal" fill="#1a1a1a" stroke="#1a1a1a" stroke-width="0.18" textLength="13.2" lengthAdjust="spacingAndGlyphs" >300</text>
<path d="M306.9,231.07 H310.4" stroke="#000" stroke-width="1.25"/>
<text x="303.50" y="233.97" font-size="7.3" text-anchor="end" font-weight="normal" fill="#1a1a1a" stroke="#1a1a1a" stroke-width="0.18" textLength="13.2" lengthAdjust="spacingAndGlyphs" >350</text>
<path d="M306.9,218.80 H310.4" stroke="#000" stroke-width="1.25"/>
<text x="303.50" y="221.70" font-size="7.3" text-anchor="end" font-weight="normal" fill="#1a1a1a" stroke="#1a1a1a" stroke-width="0.18" textLength="13.2" lengthAdjust="spacingAndGlyphs" >400</text>
<path d="M332.90,351.5 V355.1" stroke="#000" stroke-width="1.2"/>
<path d="M384.70,351.5 V355.1" stroke="#000" stroke-width="1.2"/>
<path d="M436.60,351.5 V355.1" stroke="#000" stroke-width="1.2"/>
<path d="M488.50,351.5 V355.1" stroke="#000" stroke-width="1.2"/>
<text x="332.90" y="363.90" font-size="7.8" text-anchor="middle" font-weight="normal" fill="#1a1a1a" stroke="#1a1a1a" stroke-width="0.18" textLength="28" lengthAdjust="spacingAndGlyphs" >Baseline</text>
<text x="384.70" y="363.90" font-size="7.8" text-anchor="middle" font-weight="normal" fill="#1a1a1a" stroke="#1a1a1a" stroke-width="0.18" textLength="42.1" lengthAdjust="spacingAndGlyphs" >Week before</text>
<text x="384.70" y="372.70" font-size="7.8" text-anchor="middle" font-weight="normal" fill="#1a1a1a" stroke="#1a1a1a" stroke-width="0.18" textLength="44.8" lengthAdjust="spacingAndGlyphs" >positive result</text>
<text x="436.60" y="363.90" font-size="7.8" text-anchor="middle" font-weight="normal" fill="#1a1a1a" stroke="#1a1a1a" stroke-width="0.18" textLength="36.4" lengthAdjust="spacingAndGlyphs" >Week after</text>
<text x="436.60" y="372.70" font-size="7.8" text-anchor="middle" font-weight="normal" fill="#1a1a1a" stroke="#1a1a1a" stroke-width="0.18" textLength="44.8" lengthAdjust="spacingAndGlyphs" >positive result</text>
<text x="489.70" y="363.90" font-size="7.8" text-anchor="middle" font-weight="normal" fill="#1a1a1a" stroke="#1a1a1a" stroke-width="0.18" textLength="21.7" lengthAdjust="spacingAndGlyphs" >End of</text>
<text x="489.70" y="372.70" font-size="7.8" text-anchor="middle" font-weight="normal" fill="#1a1a1a" stroke="#1a1a1a" stroke-width="0.18" textLength="30.8" lengthAdjust="spacingAndGlyphs" >treatment</text>
<g transform="translate(274.2,268.7) rotate(-90)"><text x="0.00" y="0.00" font-size="8.6" text-anchor="middle" font-weight="normal" fill="#1a1a1a" stroke="#1a1a1a" stroke-width="0.1" textLength="88.7" lengthAdjust="spacingAndGlyphs" >Median (Q1, Q3) platelet count</text><text x="-27.00" y="10.40" font-size="8.4" text-anchor="start" font-weight="normal" fill="#1a1a1a" stroke="#1a1a1a" stroke-width="0.1" textLength="40.9" lengthAdjust="spacingAndGlyphs" >over time (x10</text><text x="14.00" y="6.50" font-size="5.2" text-anchor="start" font-weight="normal" fill="#1a1a1a" stroke="#1a1a1a" stroke-width="0.1" textLength="2.4" lengthAdjust="spacingAndGlyphs" >9</text><text x="16.20" y="10.40" font-size="8.4" text-anchor="start" font-weight="normal" fill="#1a1a1a" stroke="#1a1a1a" stroke-width="0.1" textLength="9.6" lengthAdjust="spacingAndGlyphs" >/L)</text></g>
<path d="M320.70,216.60 H322.60" stroke="#c90016" stroke-width="1.4"/>
<path d="M325.10,216.60 H329.80" stroke="#c90016" stroke-width="1.4"/>
<path d="M339.60,216.60 H344.00" stroke="#c90016" stroke-width="1.4"/>
<path d="M346.20,216.60 H348.40" stroke="#c90016" stroke-width="1.4"/>
<path d="M334.75,212.60 L338.65,219.10 L330.85,219.10 Z" fill="#c90016"/>
<text x="350.80" y="219.40" font-size="7.3" text-anchor="start" font-weight="normal" fill="#1a1a1a" stroke="#1a1a1a" stroke-width="0.15" textLength="27.4" lengthAdjust="spacingAndGlyphs" >Transient</text>
<text x="378.70" y="218.20" font-size="6" text-anchor="start" font-weight="normal" fill="#1a1a1a" stroke="#1a1a1a" stroke-width="0.1" textLength="2.2" lengthAdjust="spacingAndGlyphs" >*</text>
<text x="382.90" y="219.40" font-size="7.3" text-anchor="start" font-weight="normal" fill="#1a1a1a" stroke="#1a1a1a" stroke-width="0.15" textLength="21.4" lengthAdjust="spacingAndGlyphs" >(n =  )</text><path d="M515,0 L515,1237 L197,1010 L197,1180 L530,1409 L696,1409 L696,0 Z" fill="#1a1a1a" stroke="#1a1a1a" stroke-width="42.1" transform="translate(397.78,219.40) scale(0.00358,-0.00356)"/>
<path d="M409.50,217.10 H436.80" stroke="#0630a8" stroke-width="1.5"/>
<circle cx="422.90" cy="217.10" r="2.3" fill="#0630a8"/>
<text x="438.00" y="219.40" font-size="7.3" text-anchor="start" font-weight="normal" fill="#1a1a1a" stroke="#1a1a1a" stroke-width="0.15" textLength="30.6" lengthAdjust="spacingAndGlyphs" >Persistent</text>
<text x="469.00" y="216.20" font-size="4.0" text-anchor="start" font-weight="normal" fill="#1a1a1a" stroke="#1a1a1a" stroke-width="0.25" textLength="1.9" lengthAdjust="spacingAndGlyphs" >†</text>
<text x="471.70" y="219.40" font-size="7.3" text-anchor="start" font-weight="normal" fill="#1a1a1a" stroke="#1a1a1a" stroke-width="0.15" textLength="20.4" lengthAdjust="spacingAndGlyphs" >(n = 0)</text>
<text x="314.60" y="329.80" font-size="7.6" text-anchor="start" font-weight="normal" fill="#1a1a1a" stroke="#1a1a1a" stroke-width="0.16" textLength="58.3" lengthAdjust="spacingAndGlyphs" >Number of patients</text>
<text x="332.90" y="340.20" font-size="7.4" text-anchor="middle" font-weight="normal" fill="#0630a8" stroke="#0630a8" stroke-width="0.15" >0</text>
<text x="330.84" y="348.70" font-size="7.4" text-anchor="start" font-weight="normal" fill="#c90016" stroke="#c90016" stroke-width="0.15" > </text><path d="M515,0 L515,1237 L197,1010 L197,1180 L530,1409 L696,1409 L696,0 Z" fill="#c90016" stroke="#c90016" stroke-width="41.5" transform="translate(330.84,348.70) scale(0.00361,-0.00361)"/>
<text x="384.70" y="340.20" font-size="7.4" text-anchor="middle" font-weight="normal" fill="#0630a8" stroke="#0630a8" stroke-width="0.15" >0</text>
<text x="382.64" y="348.70" font-size="7.4" text-anchor="start" font-weight="normal" fill="#c90016" stroke="#c90016" stroke-width="0.15" > </text><path d="M515,0 L515,1237 L197,1010 L197,1180 L530,1409 L696,1409 L696,0 Z" fill="#c90016" stroke="#c90016" stroke-width="41.5" transform="translate(382.64,348.70) scale(0.00361,-0.00361)"/>
<text x="436.60" y="340.20" font-size="7.4" text-anchor="middle" font-weight="normal" fill="#0630a8" stroke="#0630a8" stroke-width="0.15" >0</text>
<text x="434.54" y="348.70" font-size="7.4" text-anchor="start" font-weight="normal" fill="#c90016" stroke="#c90016" stroke-width="0.15" > </text><path d="M515,0 L515,1237 L197,1010 L197,1180 L530,1409 L696,1409 L696,0 Z" fill="#c90016" stroke="#c90016" stroke-width="41.5" transform="translate(434.54,348.70) scale(0.00361,-0.00361)"/>
<text x="488.50" y="340.20" font-size="7.4" text-anchor="middle" font-weight="normal" fill="#0630a8" stroke="#0630a8" stroke-width="0.15" >0</text>
<text x="486.44" y="348.70" font-size="7.4" text-anchor="start" font-weight="normal" fill="#c90016" stroke="#c90016" stroke-width="0.15" > </text><path d="M515,0 L515,1237 L197,1010 L197,1180 L530,1409 L696,1409 L696,0 Z" fill="#c90016" stroke="#c90016" stroke-width="41.5" transform="translate(486.44,348.70) scale(0.00361,-0.00361)"/>
<polyline points="335.70,313.70 388.60,270.50 439.30,295.80 490.60,258.30" fill="none" stroke="#c90016" stroke-width="1.7" stroke-dasharray="4,2.3"/>
<path d="M335.70,310.40 L339.20,316.30 L332.20,316.30 Z" fill="#c90016"/>
<path d="M388.60,267.20 L392.10,273.10 L385.10,273.10 Z" fill="#c90016"/>
<path d="M439.30,292.50 L442.80,298.40 L435.80,298.40 Z" fill="#c90016"/>
<path d="M490.60,255.00 L494.10,260.90 L487.10,260.90 Z" fill="#c90016"/>
</svg>
</body></html>
